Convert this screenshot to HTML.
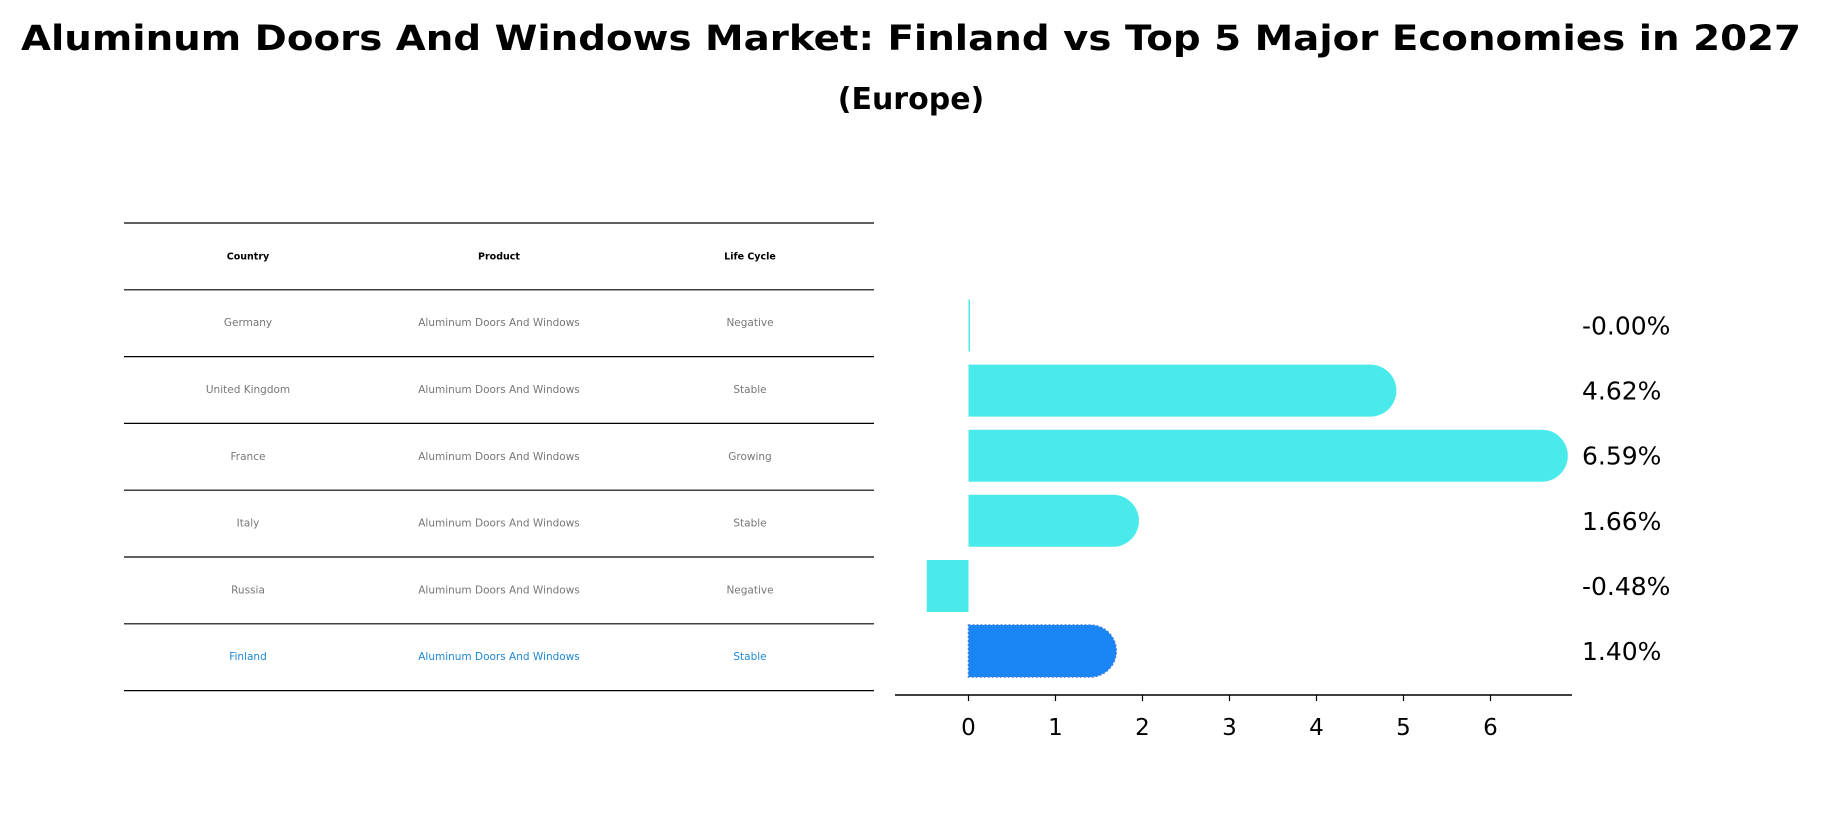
<!DOCTYPE html>
<html><head><meta charset="utf-8"><style>
html,body{margin:0;padding:0;background:#fff}
svg{display:block;font-family:"DejaVu Sans","Liberation Sans",sans-serif}
</style></head><body>
<svg width="1823" height="823" viewBox="0 0 1823 823">
<text x="911" y="50" text-anchor="middle" font-size="35" font-weight="bold" textLength="1780" lengthAdjust="spacingAndGlyphs">Aluminum Doors And Windows Market: Finland vs Top 5 Major Economies in 2027</text>
<text x="911" y="109" text-anchor="middle" font-size="30" font-weight="bold">(Europe)</text>
<g id="table"></g>
<g id="bars"></g>
</svg>
<script>
const countries=["Germany","United Kingdom","France","Italy","Russia","Finland"];
const products=["Aluminum Doors And Windows","Aluminum Doors And Windows","Aluminum Doors And Windows","Aluminum Doors And Windows","Aluminum Doors And Windows","Aluminum Doors And Windows"];
const lifecycle=["Negative","Stable","Growing","Stable","Negative","Stable"];
const values=[-0.00,4.62,6.59,1.66,-0.48,1.40];
const labels=["-0.00%","4.62%","6.59%","1.66%","-0.48%","1.40%"];
const ticks=[0,1,2,3,4,5,6];
const NS="http://www.w3.org/2000/svg";
function mk(tag,attrs,parent){const e=document.createElementNS(NS,tag);for(const k in attrs)e.setAttribute(k,attrs[k]);parent.appendChild(e);return e;}
const tb=document.getElementById('table');
const tTop=223,rowH=66.8,tx0=124,tx1=874,cols=[248,499,750];
const heads=["Country","Product","Life Cycle"];
for(let i=0;i<=countries.length+1;i++){
  const l=mk('line',{x1:tx0,x2:tx1,y1:tTop+i*rowH,y2:tTop+i*rowH,stroke:'#000','stroke-width':1.2},tb);
  
  
}
heads.forEach((h,j)=>{
  const t=mk('text',{x:cols[j],y:tTop+rowH/2+3,'text-anchor':'middle','font-size':9.5,'font-weight':'bold',fill:'#000'},tb);
  t.textContent=h;
  
  
});
countries.forEach((c,i)=>{
  const y=tTop+(i+1)*rowH+rowH/2+3;
  const fill=c==="Finland"?'#1f87d6':'#777';
  [c,products[i],lifecycle[i]].forEach((v,j)=>{
    const t=mk('text',{x:cols[j],y:y,'text-anchor':'middle','font-size':10.5,fill:fill},tb);
    t.textContent=v;
    
    
  });
});
const bg=document.getElementById('bars');
const x0=968.5,unit=87,xs=v=>x0+v*unit;
const yc=[325.5,390.6,455.7,520.8,586,651],bh=52;
const axY=695;
const ax=mk('line',{x1:895,x2:1572,y1:axY,y2:axY,stroke:'#000','stroke-width':1.5},bg);


ticks.forEach(t=>{
  const l=mk('line',{x1:xs(t),x2:xs(t),y1:axY,y2:axY+6,stroke:'#000','stroke-width':1.2},bg);
  
  
  const tx=mk('text',{x:xs(t),y:axY+40,'text-anchor':'middle','font-size':23},bg);
  tx.textContent=t;
  
  
});
values.forEach((v,i)=>{
  const fin=countries[i]==="Finland";
  const col=fin?'#1a85f5':'#4aeaea';
  const y=yc[i]-bh/2,r=bh/2;
  let d;
  if(v>0.01){
    const xe=xs(v);
    d=`M${x0},${y} H${xe} A${r},${r} 0 0 1 ${xe},${y+bh} H${x0} Z`;
  } else {
    const xa=Math.min(xs(v),x0),xb=Math.max(xs(v),x0)+(Math.abs(v)<0.01?1.5:0);
    d=`M${xa},${y} H${xb} V${y+bh} H${xa} Z`;
  }
  const p=mk('path',{d:d,fill:col},bg);
  if(fin){p.setAttribute('stroke','#3a7de0');p.setAttribute('stroke-width',1.5);p.setAttribute('stroke-dasharray','2,2');}
  
  
  const t=mk('text',{x:1582,y:yc[i]+9,'font-size':25},bg);
  t.textContent=labels[i];
  
  
});
</script>
</body></html>
